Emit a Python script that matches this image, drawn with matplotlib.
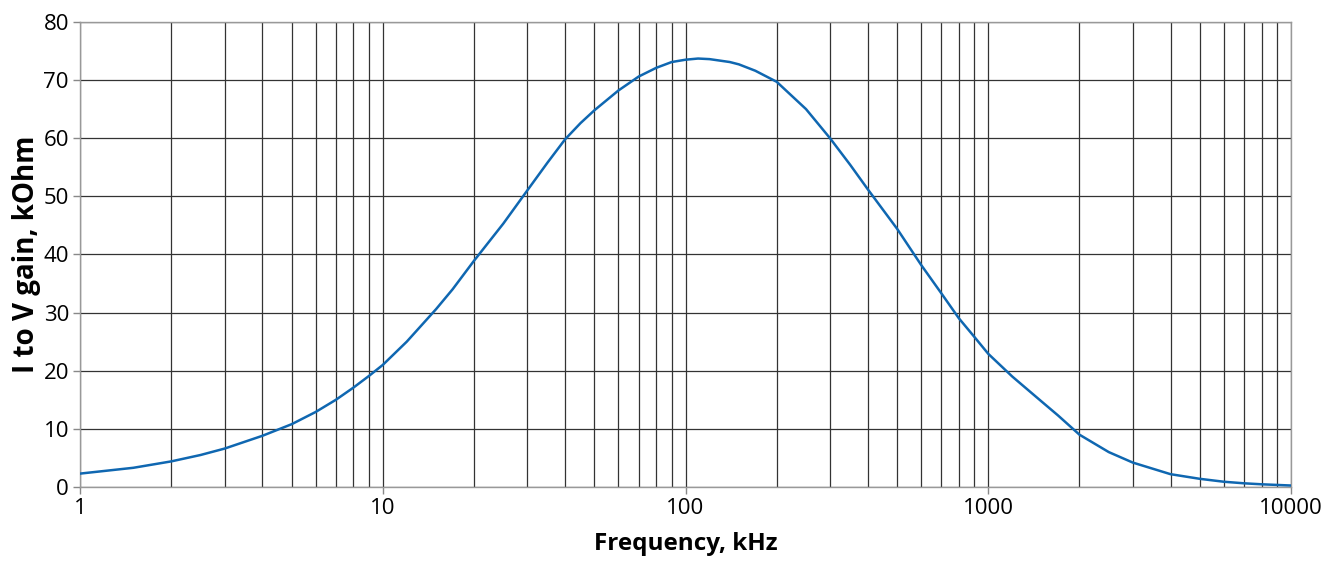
import matplotlib
matplotlib.use("Agg")
import matplotlib.pyplot as plt
from matplotlib.ticker import FixedLocator, NullFormatter

# frequency in kHz, gain in kOhm
freq = [1, 1.5, 2, 2.5, 3, 4, 5, 6, 7, 8, 9, 10, 12, 15, 17, 20, 25, 30, 35, 40,
        45, 50, 60, 70, 80, 90, 100, 110, 120, 140, 150, 170, 200, 250, 300,
        350, 400, 500, 600, 700, 800, 900, 1000, 1200, 1500, 1700, 2000, 2500,
        3000, 4000, 5000, 6000, 7000, 8000, 9000, 10000]
gain = [2.3, 3.3, 4.4, 5.5, 6.6, 8.8, 10.8, 12.9, 15.0, 17.1, 19.1, 21.0, 25.0,
        30.6, 34.0, 38.9, 45.3, 51.0, 55.8, 59.8, 62.6, 64.8, 68.2, 70.6, 72.1,
        73.1, 73.5, 73.7, 73.6, 73.1, 72.7, 71.6, 69.7, 65.0, 60.0, 55.4, 51.2,
        44.4, 38.2, 33.3, 29.0, 25.8, 22.9, 19.0, 14.7, 12.3, 9.0, 6.0, 4.2,
        2.2, 1.4, 0.9, 0.63, 0.46, 0.35, 0.25]
xticks = [1, 10, 100, 1000, 10000]
xtick_labels = ["1", "10", "100", "1000", "10000"]
yticks = [0, 10, 20, 30, 40, 50, 60, 70, 80]

plt.rcParams["font.family"] = ["Open Sans", "DejaVu Sans"]

fig = plt.figure(figsize=(13.3, 5.62), dpi=100)
ax = fig.add_axes([0.0602, 0.1335, 0.9105, 0.8275])

ax.plot(freq, gain, color="#0f67b1", lw=1.8, zorder=3)

ax.set_xscale("log")
ax.set_xlim(1, 10000)
ax.set_ylim(0, 80)
ax.xaxis.set_major_locator(FixedLocator(xticks))
ax.set_xticklabels(xtick_labels)
minors = [m * d for d in (1, 10, 100, 1000) for m in range(2, 10)]
ax.xaxis.set_minor_locator(FixedLocator(minors))
ax.xaxis.set_minor_formatter(NullFormatter())
ax.set_yticks(yticks)

ax.grid(True, which="both", axis="x", color="#333333", lw=0.9)
ax.grid(True, which="major", axis="y", color="#333333", lw=0.9)

ax.tick_params(axis="both", which="major", labelsize=16, length=5,
               color="#888888", width=1, pad=3)
ax.tick_params(axis="x", which="minor", length=0)
for s in ax.spines.values():
    s.set_color("#999999")
    s.set_linewidth(1.0)

ax.set_xlabel("Frequency, kHz", fontsize=17.5, fontweight="bold", labelpad=9)
ax.set_ylabel("I to V gain, kOhm", fontsize=20, fontweight="bold", labelpad=2)

fig.savefig("out.png", dpi=100)
